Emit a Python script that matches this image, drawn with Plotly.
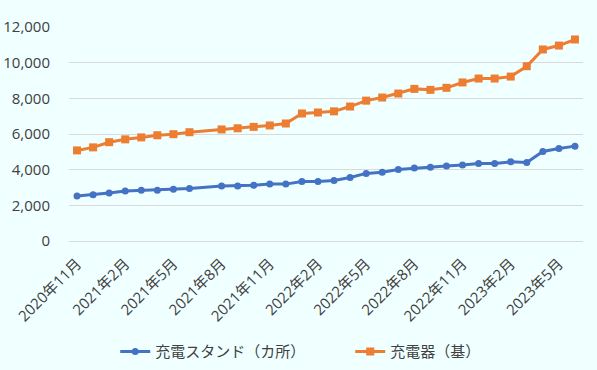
import plotly.graph_objects as go

months = [
    "2020年11月", "2020年12月", "2021年1月", "2021年2月", "2021年3月", "2021年4月",
    "2021年5月", "2021年6月", "2021年7月", "2021年8月", "2021年9月", "2021年10月",
    "2021年11月", "2021年12月", "2022年1月", "2022年2月", "2022年3月", "2022年4月",
    "2022年5月", "2022年6月", "2022年7月", "2022年8月", "2022年9月", "2022年10月",
    "2022年11月", "2022年12月", "2023年1月", "2023年2月", "2023年3月", "2023年4月",
    "2023年5月", "2023年6月",
]
stands = [
    2520, 2590, 2690, 2800, 2840, 2840, 2895, 2950, None, 3080, 3080, 3120,
    3190, 3190, 3340, 3340, 3390, 3560, 3790, 3850, 4015, 4090, 4140, 4200,
    4256, 4350, 4350, 4440, 4400, 5020, 5190, 5320,
]
chargers = [
    5080, 5250, 5540, 5700, 5810, 5930, 5990, 6100, None, 6255, 6320, 6400,
    6480, 6590, 7150, 7205, 7270, 7540, 7870, 8045, 8270, 8530, 8475, 8590,
    8890, 9110, 9110, 9220, 9800, 10740, 10960, 11300,
]
tick_labels = months[::3]
series_names = ["充電スタンド（カ所）", "充電器（基）"]

bg = "#F0FFFF"
fam = "Open Sans, Noto Sans CJK JP"
fig = go.Figure()
fig.add_trace(go.Scatter(
    x=months, y=stands, name=series_names[0], mode="lines+markers",
    connectgaps=True,
    line=dict(color="#4472C4", width=3),
    marker=dict(symbol="circle", size=7, color="#4472C4"),
))
fig.add_trace(go.Scatter(
    x=months, y=chargers, name=series_names[1], mode="lines+markers",
    connectgaps=True,
    line=dict(color="#ED7D31", width=3),
    marker=dict(symbol="square", size=8, color="#ED7D31"),
))

fig.update_layout(
    width=597, height=370,
    paper_bgcolor=bg, plot_bgcolor=bg,
    margin=dict(l=69, r=14, t=27, b=129, autoexpand=False),
    font=dict(family=fam, size=15, color="#404040"),
    showlegend=True,
    legend=dict(orientation="h", xref="container", x=0.193, xanchor="left",
                yref="container", y=0.049, yanchor="middle",
                font=dict(family=fam, size=15, color="#404040"),
                bgcolor="rgba(0,0,0,0)", itemwidth=30, entrywidth=190),
    xaxis=dict(
        type="category", categoryorder="array", categoryarray=months,
        range=[-0.5, len(months) - 0.5], automargin=False,
        tickmode="array", tickvals=tick_labels, ticktext=tick_labels,
        tickangle=-45, showgrid=False, showline=False, zeroline=False,
        ticks="", ticklabelstandoff=10,
    ),
    yaxis=dict(
        range=[0, 12000], dtick=2000, tickformat=",d", automargin=False,
        showgrid=True, gridcolor="#D9D9D9", gridwidth=1,
        zeroline=True, zerolinecolor="#D9D9D9", zerolinewidth=1,
        showline=False, ticks="", ticklabelstandoff=18,
    ),
)

fig.write_html("out.html", config={"displayModeBar": False},
               post_script="document.body.style.margin='0';")
